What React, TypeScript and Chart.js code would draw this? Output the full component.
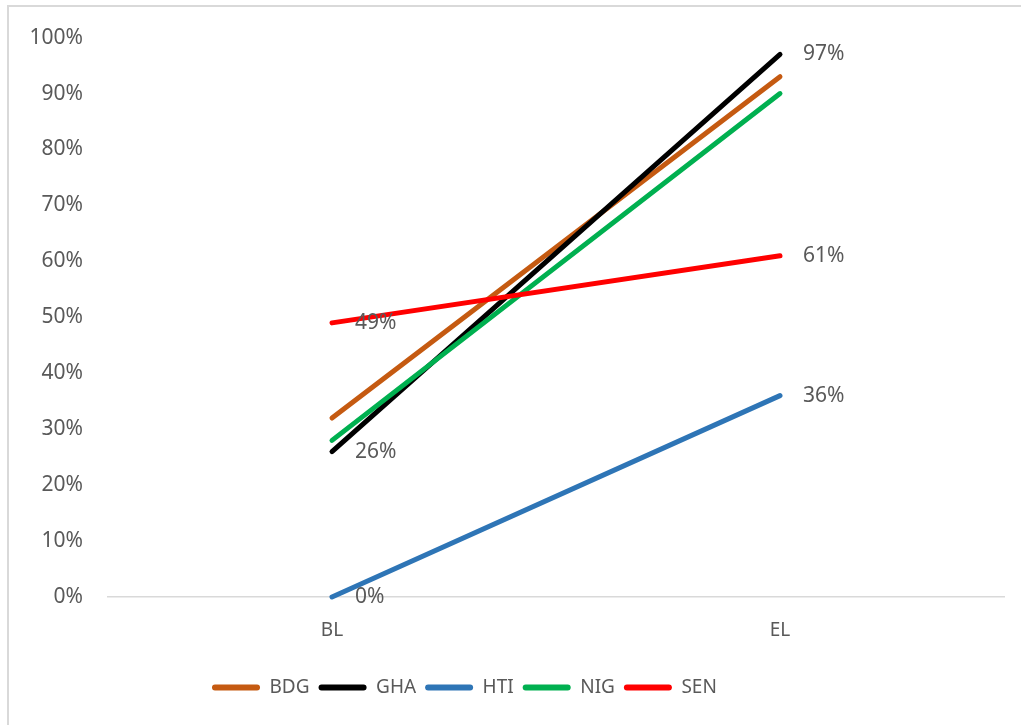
import React, { useEffect, useRef } from 'react';
import { Chart, registerables } from 'chart.js';

Chart.register(...registerables);

const categories = ['BL', 'EL'];
const seriesNames = ['BDG', 'GHA', 'HTI', 'NIG', 'SEN'];
const bdgValues = [32, 93];
const ghaValues = [26, 97];
const htiValues = [0, 36];
const nigValues = [28, 90];
const senValues = [49, 61];
const seriesValues = [bdgValues, ghaValues, htiValues, nigValues, senValues];
const seriesColors = ['#C55A11', '#000000', '#2E75B6', '#00B050', '#FF0000'];
const showValueLabels = [false, true, true, false, true];

const FONT = '"Noto Sans", sans-serif';
const TEXT = '#595959';

const valueLabelPlugin = {
  id: 'valueLabels',
  afterDatasetsDraw(chart: any) {
    const ctx = chart.ctx;
    ctx.save();
    ctx.font = `21px ${FONT}`;
    ctx.fillStyle = TEXT;
    ctx.textAlign = 'left';
    ctx.textBaseline = 'middle';
    chart.data.datasets.forEach((ds: any, i: number) => {
      if (!showValueLabels[i]) return;
      const meta = chart.getDatasetMeta(i);
      meta.data.forEach((pt: any, j: number) => {
        ctx.fillText(`${ds.data[j]}%`, pt.x + 23, pt.y);
      });
    });
    ctx.restore();
  },
};

const legendPlacePlugin = {
  id: 'legendPlace',
  afterLayout(chart: any) {
    const l = chart.legend;
    if (!l) return;
    l.left = 203;
    l.right = 1021;
    l.width = l.right - l.left;
  },
};

export default function App() {
  const ref = useRef<HTMLCanvasElement | null>(null);

  useEffect(() => {
    if (!ref.current) return;
    const chart = new Chart(ref.current, {
      type: 'line',
      data: {
        labels: categories,
        datasets: seriesNames.map((name, i) => ({
          label: name,
          data: seriesValues[i],
          borderColor: seriesColors[i],
          backgroundColor: seriesColors[i],
          borderWidth: 5,
          borderCapStyle: 'round',
          pointRadius: 0,
          pointHoverRadius: 0,
          tension: 0,
          clip: false,
          order: seriesNames.length - i,
        })),
      },
      options: {
        animation: false,
        responsive: true,
        maintainAspectRatio: false,
        layout: { padding: { left: 0, right: 17, top: 36, bottom: 18 } },
        plugins: {
          tooltip: { enabled: false },
          legend: {
            position: 'bottom',
            align: 'start',
            labels: {
              boxWidth: 48,
              boxHeight: 6,
              padding: 9,
              color: TEXT,
              font: { family: FONT, size: 19 },
              useBorderRadius: true,
              borderRadius: 3,
              sort: (a: any, b: any) => a.datasetIndex - b.datasetIndex,
              generateLabels: (chart: any) =>
                Chart.defaults.plugins.legend.labels
                  .generateLabels(chart)
                  .map((it: any) => ({ ...it, lineWidth: 0 })),
            },
          },
        },
        scales: {
          x: {
            type: 'category',
            offset: true,
            grid: { display: false, drawTicks: false },
            border: { display: true, color: '#D9D9D9', width: 1.5 },
            ticks: { color: TEXT, font: { family: FONT, size: 19 }, padding: 22 },
            afterFit: (scale: any) => {
              scale.height = 72;
            },
          },
          y: {
            min: 0,
            max: 100,
            grid: { display: false, drawTicks: false },
            border: { display: false },
            ticks: {
              stepSize: 10,
              color: TEXT,
              font: { family: FONT, size: 21 },
              padding: 25,
              callback: (v: any) => `${v}%`,
            },
            afterFit: (scale: any) => {
              scale.width = 108;
            },
          },
        },
      } as any,
      plugins: [valueLabelPlugin, legendPlacePlugin],
    });
    return () => chart.destroy();
  }, []);

  return (
    <div style={{ position: 'fixed', left: 0, top: 0, width: 1021, height: 725, background: '#fff' }}>
      <div
        style={{
          position: 'absolute',
          left: 7,
          top: 5,
          width: 1014,
          height: 720,
          borderTop: '2px solid #D9D9D9',
          borderLeft: '2px solid #D9D9D9',
          boxSizing: 'border-box',
        }}
      />
      <div style={{ position: 'absolute', left: 0, top: 0, width: 1021, height: 725 }}>
        <canvas ref={ref} />
      </div>
    </div>
  );
}
